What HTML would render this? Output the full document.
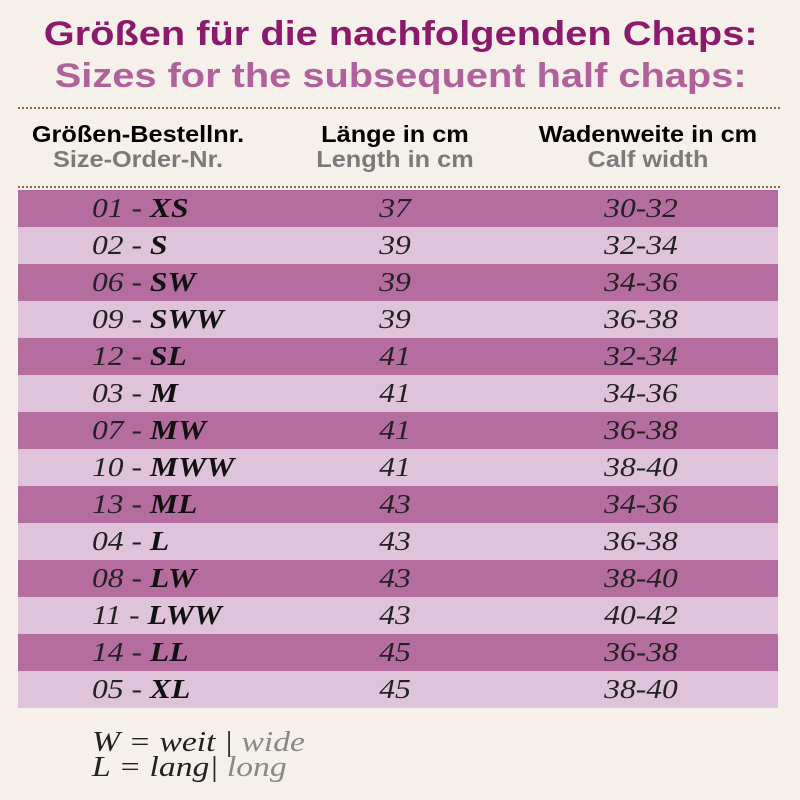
<!DOCTYPE html><html><head><style>
body{margin:0;width:800px;height:800px;background:#f5f0ea;position:relative;overflow:hidden;font-family:"Liberation Sans",sans-serif}
.t{position:absolute;left:0;width:800px;text-align:center;font-weight:bold;font-size:34px;white-space:nowrap;transform:scaleX(1.17);transform-origin:396px 0}
.dot{position:absolute;left:18px;width:762px;border-top:2px dotted #8a6a4a}
.h{position:absolute;text-align:center;font-weight:bold;font-size:23px;line-height:25px;transform:scaleX(1.1)}
.h span{color:#7a7a7a}
.row{position:absolute;left:18px;width:760px;height:37px;font-family:"Liberation Serif",serif;font-style:italic;font-size:27px;line-height:37px;color:#222}
.row div{position:absolute;top:0;transform:scaleX(1.17)}
.c1{left:74px;transform-origin:0 0}.c2{left:302px;width:150px;text-align:center}.c3{left:548px;width:150px;text-align:center}
.d{background:#b56c9f}.l{background:#dfc3da}
b{font-weight:bold;color:#111}
</style></head><body>
<div class="t" style="top:15px;color:#8b1a6c">Größen für die nachfolgenden Chaps:</div>
<div class="t" style="top:57px;color:#b0609a">Sizes for the subsequent half chaps:</div>
<div class="dot" style="top:107px"></div>
<div class="h" style="left:23px;width:230px;top:122px">Größen-Bestellnr.<br><span>Size-Order-Nr.</span></div>
<div class="h" style="left:300px;width:190px;top:122px">Länge in cm<br><span>Length in cm</span></div>
<div class="h" style="left:518px;width:260px;top:122px">Wadenweite in cm<br><span>Calf width</span></div>
<div class="dot" style="top:186px"></div>
<div class="row d" style="top:190px"><div class="c1">01 - <b>XS</b></div><div class="c2">37</div><div class="c3">30-32</div></div>
<div class="row l" style="top:227px"><div class="c1">02 - <b>S</b></div><div class="c2">39</div><div class="c3">32-34</div></div>
<div class="row d" style="top:264px"><div class="c1">06 - <b>SW</b></div><div class="c2">39</div><div class="c3">34-36</div></div>
<div class="row l" style="top:301px"><div class="c1">09 - <b>SWW</b></div><div class="c2">39</div><div class="c3">36-38</div></div>
<div class="row d" style="top:338px"><div class="c1">12 - <b>SL</b></div><div class="c2">41</div><div class="c3">32-34</div></div>
<div class="row l" style="top:375px"><div class="c1">03 - <b>M</b></div><div class="c2">41</div><div class="c3">34-36</div></div>
<div class="row d" style="top:412px"><div class="c1">07 - <b>MW</b></div><div class="c2">41</div><div class="c3">36-38</div></div>
<div class="row l" style="top:449px"><div class="c1">10 - <b>MWW</b></div><div class="c2">41</div><div class="c3">38-40</div></div>
<div class="row d" style="top:486px"><div class="c1">13 - <b>ML</b></div><div class="c2">43</div><div class="c3">34-36</div></div>
<div class="row l" style="top:523px"><div class="c1">04 - <b>L</b></div><div class="c2">43</div><div class="c3">36-38</div></div>
<div class="row d" style="top:560px"><div class="c1">08 - <b>LW</b></div><div class="c2">43</div><div class="c3">38-40</div></div>
<div class="row l" style="top:597px"><div class="c1">11 - <b>LWW</b></div><div class="c2">43</div><div class="c3">40-42</div></div>
<div class="row d" style="top:634px"><div class="c1">14 - <b>LL</b></div><div class="c2">45</div><div class="c3">36-38</div></div>
<div class="row l" style="top:671px"><div class="c1">05 - <b>XL</b></div><div class="c2">45</div><div class="c3">38-40</div></div>
<div style="position:absolute;left:92px;top:730px;font-family:'Liberation Serif',serif;font-style:italic;font-size:28px;line-height:25px;color:#222;transform:scaleX(1.2);transform-origin:0 0;white-space:nowrap">W = weit | <span style="color:#888">wide</span><br>L = lang| <span style="color:#888">long</span></div>
</body></html>
